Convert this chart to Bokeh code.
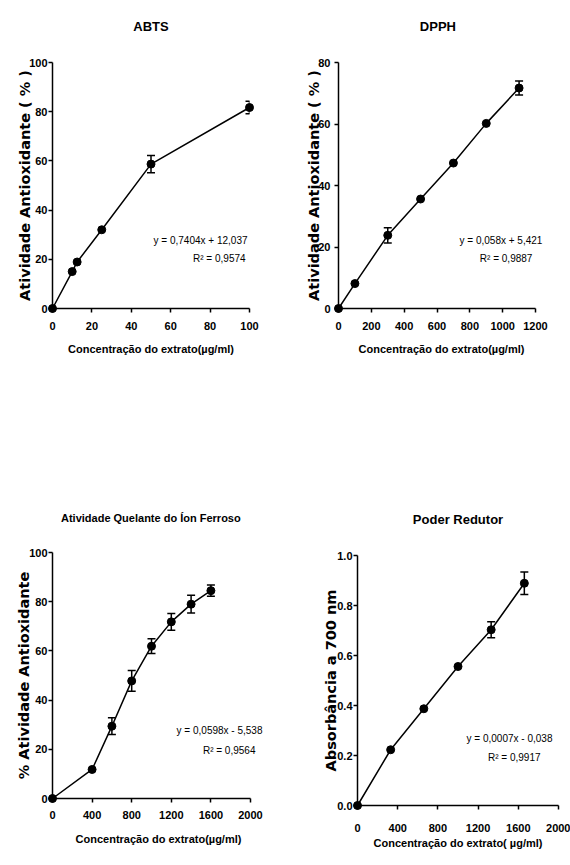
from bokeh.plotting import figure
from bokeh.layouts import column, row
from bokeh.models import (ColumnDataSource, Whisker, TeeHead, Label, Range1d,
                          FixedTicker, NumeralTickFormatter, LinearAxis)
from bokeh.embed import file_html
from bokeh.resources import INLINE

# ---------------- data ----------------
abts_x = [0, 10, 12.5, 25, 50, 100]
abts_y = [0, 15.0, 18.9, 32.0, 58.7, 81.7]
abts_err = [0, 0, 0, 0, 3.5, 2.5]

dpph_x = [0, 100, 300, 500, 700, 900, 1100]
dpph_y = [0, 8.1, 23.8, 35.6, 47.3, 60.2, 71.7]
dpph_err = [0, 0, 2.5, 0, 0, 0, 2.3]

ferro_x = [0, 400, 600, 800, 1000, 1200, 1400, 1600]
ferro_y = [0, 11.8, 29.4, 47.8, 61.9, 71.8, 79.0, 84.5]
ferro_err = [0, 0, 3.4, 4.2, 3.0, 3.4, 3.6, 2.3]

poder_x = [0, 330, 660, 1000, 1330, 1660]
poder_y = [0, 0.223, 0.387, 0.556, 0.703, 0.889]
poder_err = [0, 0, 0, 0, 0.032, 0.045]

abts_xticks = [0, 20, 40, 60, 80, 100]
abts_yticks = [0, 20, 40, 60, 80, 100]
dpph_xticks = [0, 200, 400, 600, 800, 1000, 1200]
dpph_yticks = [0, 20, 40, 60, 80]
ferro_xticks = [0, 400, 800, 1200, 1600, 2000]
ferro_yticks = [0, 20, 40, 60, 80, 100]
poder_xticks = [0, 400, 800, 1200, 1600, 2000]
poder_yticks = [0, 0.2, 0.4, 0.6, 0.8, 1.0]

FONT = "Liberation Sans"
WIDE = "DejaVu Sans"
NBSP = "\u00a0"


def panel(xs, ys, errs, xmax, ymax, xticks, yticks, title, title_size,
          title_standoff, title_pad, xlabel, ylabel, eq1, eq2, eq_pos,
          w, h, bl, axis_px, ext_px, bt, bb,
          xl_standoff, xt_standoff, yl_standoff, yt_standoff, yfmt=None):
    # the frame may extend a few pixels past the axis end so that the
    # equation text is not clipped; the axis itself is bounded at xmax
    x_end = xmax * (axis_px + ext_px) / axis_px
    p = figure(width=w, height=h, output_backend="svg", toolbar_location=None,
               x_range=Range1d(0, x_end), y_range=Range1d(0, ymax),
               min_border_left=bl, min_border_right=w - bl - axis_px - ext_px,
               min_border_top=bt, min_border_bottom=bb)
    p.outline_line_color = None
    p.xgrid.visible = False
    p.ygrid.visible = False
    p.background_fill_color = "white"
    p.border_fill_color = "white"

    for ax in (p.xaxis[0], p.yaxis[0]):
        ax.axis_line_width = 1.5
        ax.axis_line_color = "black"
        ax.major_tick_line_width = 1.5
        ax.major_tick_line_color = "black"
        ax.major_tick_in = 0
        ax.major_tick_out = 4
        ax.minor_tick_line_color = None
        ax.major_label_text_font = FONT
        ax.major_label_text_font_style = "bold"
        ax.major_label_text_font_size = "11px"
        ax.major_label_text_color = "black"
        ax.axis_label_text_color = "black"
        ax.axis_label_text_font_style = "bold"

    p.xaxis.bounds = (0, xmax)
    p.xaxis.ticker = FixedTicker(ticks=xticks)
    p.yaxis.ticker = FixedTicker(ticks=yticks)
    if yfmt:
        p.yaxis.formatter = NumeralTickFormatter(format=yfmt)

    p.xaxis.axis_label = xlabel
    p.xaxis.axis_label_text_font = FONT
    p.xaxis.axis_label_text_font_size = "11px"
    p.xaxis.axis_label_standoff = xl_standoff
    p.xaxis.major_label_standoff = xt_standoff

    p.yaxis.axis_label = ylabel
    p.yaxis.axis_label_text_font = WIDE
    p.yaxis.axis_label_text_font_size = "14.5px"
    p.yaxis.axis_label_standoff = yl_standoff
    p.yaxis.major_label_standoff = yt_standoff

    p.line(xs, ys, line_width=1.5, color="black", level="overlay")
    p.scatter(xs, ys, size=8, color="black", level="overlay")

    ex = [x for x, e in zip(xs, errs) if e > 0]
    up = [y + e for y, e in zip(ys, errs) if e > 0]
    lo = [y - e for y, e in zip(ys, errs) if e > 0]
    src = ColumnDataSource(dict(x=ex, upper=up, lower=lo))
    wk = Whisker(source=src, base="x", upper="upper", lower="lower",
                 line_width=1.5, line_color="black", level="overlay",
                 upper_head=TeeHead(size=8, line_width=1.5, line_color="black"),
                 lower_head=TeeHead(size=8, line_width=1.5, line_color="black"))
    p.add_layout(wk)

    (x1, y1), (x2, y2) = eq_pos
    for tx, xx, yy in ((eq1, x1, y1), (eq2, x2, y2)):
        p.add_layout(Label(x=xx, y=yy, text=tx, text_align="right",
                           text_baseline="middle", text_font=FONT,
                           level="overlay",
                           text_font_size="10px", text_color="black"))

    # chart title: label of a tick-less axis above the frame
    top = LinearAxis(ticker=FixedTicker(ticks=[]), bounds=(0, xmax),
                     major_tick_out=0, major_tick_in=0, axis_line_color=None,
                     major_tick_line_color=None, minor_tick_line_color=None,
                     axis_label=title + NBSP * title_pad,
                     axis_label_standoff=title_standoff,
                     axis_label_text_font=FONT, axis_label_text_font_style="bold",
                     axis_label_text_font_size=title_size,
                     axis_label_text_color="black")
    p.add_layout(top, "above")
    return p


xlab = "Concentração do extrato(µg/ml)"
ylab = "Atividade Antioxidante ( % )"

p1 = panel(abts_x, abts_y, abts_err, 100, 100, abts_xticks, abts_yticks,
           "ABTS", "13px", 29, 0, xlab, ylab,
           "y = 0,7404x + 12,037", "R² = 0,9574", ((99, 27.6), (98, 20.3)),
           285, 440, 52, 197, 0, 62, 132, 10, 9, -7, 1)

p2 = panel(dpph_x, dpph_y, dpph_err, 1200, 80, dpph_xticks, dpph_yticks,
           "DPPH", "13px", 29, 2, xlab, ylab,
           "y = 0,058x + 5,421", "R² = 0,9887", ((1242, 22.1), (1181, 16.3)),
           285, 440, 53, 197, 9, 62, 132, 10, 9, -7, 4)

p3 = panel(ferro_x, ferro_y, ferro_err, 2000, 100, ferro_xticks, ferro_yticks,
           "Atividade Quelante do Íon Ferroso", "11px", 29, 5, xlab,
           "% Atividade Antioxidante",
           "y = 0,0598x - 5,538", "R² = 0,9564", ((2121, 27.6), (2050, 19.5)),
           285, 425, 52, 198, 14, 112, 67, 11, 8, -6, 1)

p4 = panel(poder_x, poder_y, poder_err, 2000, 1.0, poder_xticks, poder_yticks,
           "Poder Redutor", "13px", 29, 0,
           "Concentração do extrato( µg/ml)",
           "Absorbância a 700 nm",
           "y = 0,0007x - 0,038", "R² = 0,9917", ((1940, 0.268), (1821, 0.192)),
           285, 425, 72, 201, 0, 115, 60, 2, 14, -5, 1, yfmt="0.0")

layout = column(row(p1, p2), row(column(p3), column(p4)))
open("out.html", "w").write(file_html(layout, INLINE))
